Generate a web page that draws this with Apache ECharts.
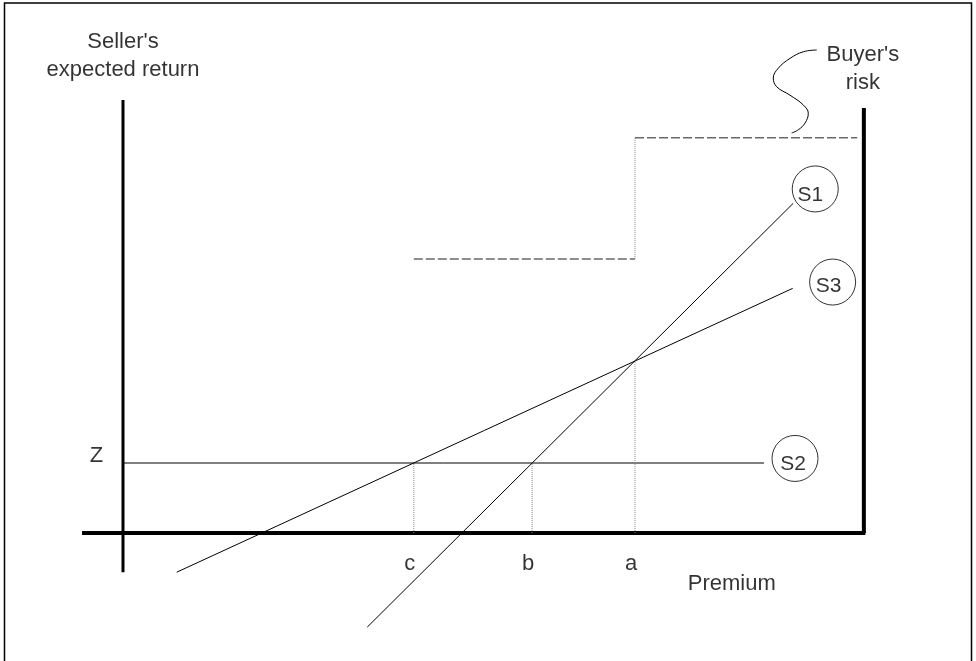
<!DOCTYPE html>
<html><head><meta charset="utf-8">
<script src="https://cdn.jsdelivr.net/npm/echarts@6/dist/echarts.min.js"></script>
<style>html,body{margin:0;padding:0;background:#fff}#c{width:976px;height:661px}</style>
</head><body><div id="c"></div>
<script>
// ---- data (conceptual units: premium on x, seller's expected return on y) ----
const premiumTickLabels = ['c', 'b', 'a'];
const premiumTickValues = [5.68, 7.99, 10.0];
const zLabel = 'Z';
const zValue = 2.0;
const crossValue = 4.93;               // S1 and S3 meet above a
const s1Points = [[4.77, -2.69], [13.09, 9.42]];
const s2Points = [[0, 2.0], [12.52, 2.0]];
const s3Points = [[1.05, -1.12], [13.08, 6.99]];
const curveNames = ['S1', 'S2', 'S3'];
const curveTagPoints = [[13.52, 9.83], [13.125, 2.13], [13.86, 7.17]];
const buyerRiskX = [5.68, 10.0, 14.34];
const buyerRiskY = [7.83, 11.29];
const xAxisExtent = [-0.8, 14.5];
const yAxisExtent = [-1.12, 12.37];
const rightWallX = 14.47;
const rightWallTop = 12.14;
const squigglePoints = [
  [13.549, 13.80], [13.288, 13.75], [13.027, 13.56], [12.799, 13.28],
  [12.701, 13.00], [12.767, 12.75], [13.027, 12.51], [13.287, 12.23],
  [13.385, 11.99], [13.320, 11.71], [13.190, 11.52], [13.060, 11.43]
];
const titleTexts = ["Seller's\nexpected return", 'Premium', "Buyer's\nrisk"];
const titlePoints = [[0, 13.63], [11.89, -1.466], [14.45, 13.26]];
const tickLabelY = -0.87;
const zLabelPoint = [-0.518, 2.19];

// ---- layout ----
const ORIGIN = [123, 533], UX = 51.2, UY = 35;
const XR = [-2, 16.5], YR = [-3.4, 14.6];
const FONT = 'Liberation Sans, Arial, sans-serif';
const tagOffsets = [[-5, 6], [-2, 6], [-4, 4]];

function seg(points, style) {
  return {
    type: 'line', data: points, symbol: 'none', clip: false, silent: true,
    lineStyle: Object.assign({color: '#000', width: 1, cap: 'butt'}, style),
    emphasis: {disabled: true}, z: 3
  };
}
function textSeries(items, extra) {
  return {
    type: 'scatter', symbol: 'circle', symbolSize: 1, silent: true, clip: false,
    itemStyle: {color: 'rgba(0,0,0,0)'},
    emphasis: {disabled: true},
    data: items,
    label: Object.assign({show: true, position: 'inside', color: '#000',
      fontFamily: FONT, fontSize: 22, formatter: p => p.name}, extra || {}),
    z: 5
  };
}

const dotted = {color: '#8a8a8a', width: 1, type: [1, 1]};
const dashed = {color: '#6a6a6a', width: 1.5, type: [9, 3]};

const series = [
  // axes
  seg([[xAxisExtent[0], 0], [xAxisExtent[1], 0]], {width: 4}),
  seg([[0, yAxisExtent[0]], [0, yAxisExtent[1]]], {width: 3}),
  seg([[rightWallX, 0], [rightWallX, rightWallTop]], {width: 4}),
  // seller curves
  seg(s1Points, {}),
  seg(s2Points, {}),
  seg(s3Points, {}),
  // drop lines
  seg([[premiumTickValues[0], 0], [premiumTickValues[0], zValue]], dotted),
  seg([[premiumTickValues[1], 0], [premiumTickValues[1], zValue]], dotted),
  seg([[premiumTickValues[2], 0], [premiumTickValues[2], crossValue]], dotted),
  // buyer's risk step
  seg([[buyerRiskX[0], buyerRiskY[0]], [buyerRiskX[1], buyerRiskY[0]]], dashed),
  seg([[buyerRiskX[1], buyerRiskY[0]], [buyerRiskX[1], buyerRiskY[1]]], dotted),
  seg([[buyerRiskX[1], buyerRiskY[1]], [buyerRiskX[2], buyerRiskY[1]]], dashed),
  // squiggle pointer
  Object.assign(seg(squigglePoints, {width: 1}), {smooth: 0.4}),
  // circled curve tags
  {
    type: 'scatter', symbol: 'circle', symbolSize: 46, silent: true, clip: false,
    itemStyle: {color: 'rgba(255,255,255,0)', borderColor: '#000', borderWidth: 1},
    emphasis: {disabled: true},
    data: curveNames.map((n, i) => ({name: n, value: curveTagPoints[i],
      label: {offset: tagOffsets[i]}})),
    label: {show: true, position: 'inside', color: '#000', fontFamily: FONT,
      fontSize: 21, formatter: p => p.name},
    z: 6
  },
  // tick labels
  textSeries(premiumTickLabels.map((t, i) => ({name: t, value: [premiumTickValues[i], tickLabelY]})),
    {offset: [-4, 0]}),
  textSeries([{name: zLabel, value: zLabelPoint}]),
  textSeries(titleTexts.map((t, i) => ({name: t, value: titlePoints[i]})), {lineHeight: 28})
];

const chart = echarts.init(document.getElementById('c'), null, {renderer: 'canvas'});
chart.setOption({
  animation: false,
  backgroundColor: '#fff',
  grid: {
    left: ORIGIN[0] + XR[0] * UX,
    width: (XR[1] - XR[0]) * UX,
    top: ORIGIN[1] - YR[1] * UY,
    height: (YR[1] - YR[0]) * UY
  },
  xAxis: {type: 'value', min: XR[0], max: XR[1], show: false},
  yAxis: {type: 'value', min: YR[0], max: YR[1], show: false},
  graphic: [{
    type: 'rect', shape: {x: 4.5, y: 3, width: 967, height: 700},
    style: {fill: 'none', stroke: '#000', lineWidth: 1.5}, silent: true, z: 10
  }],
  series: series
});
</script></body></html>
